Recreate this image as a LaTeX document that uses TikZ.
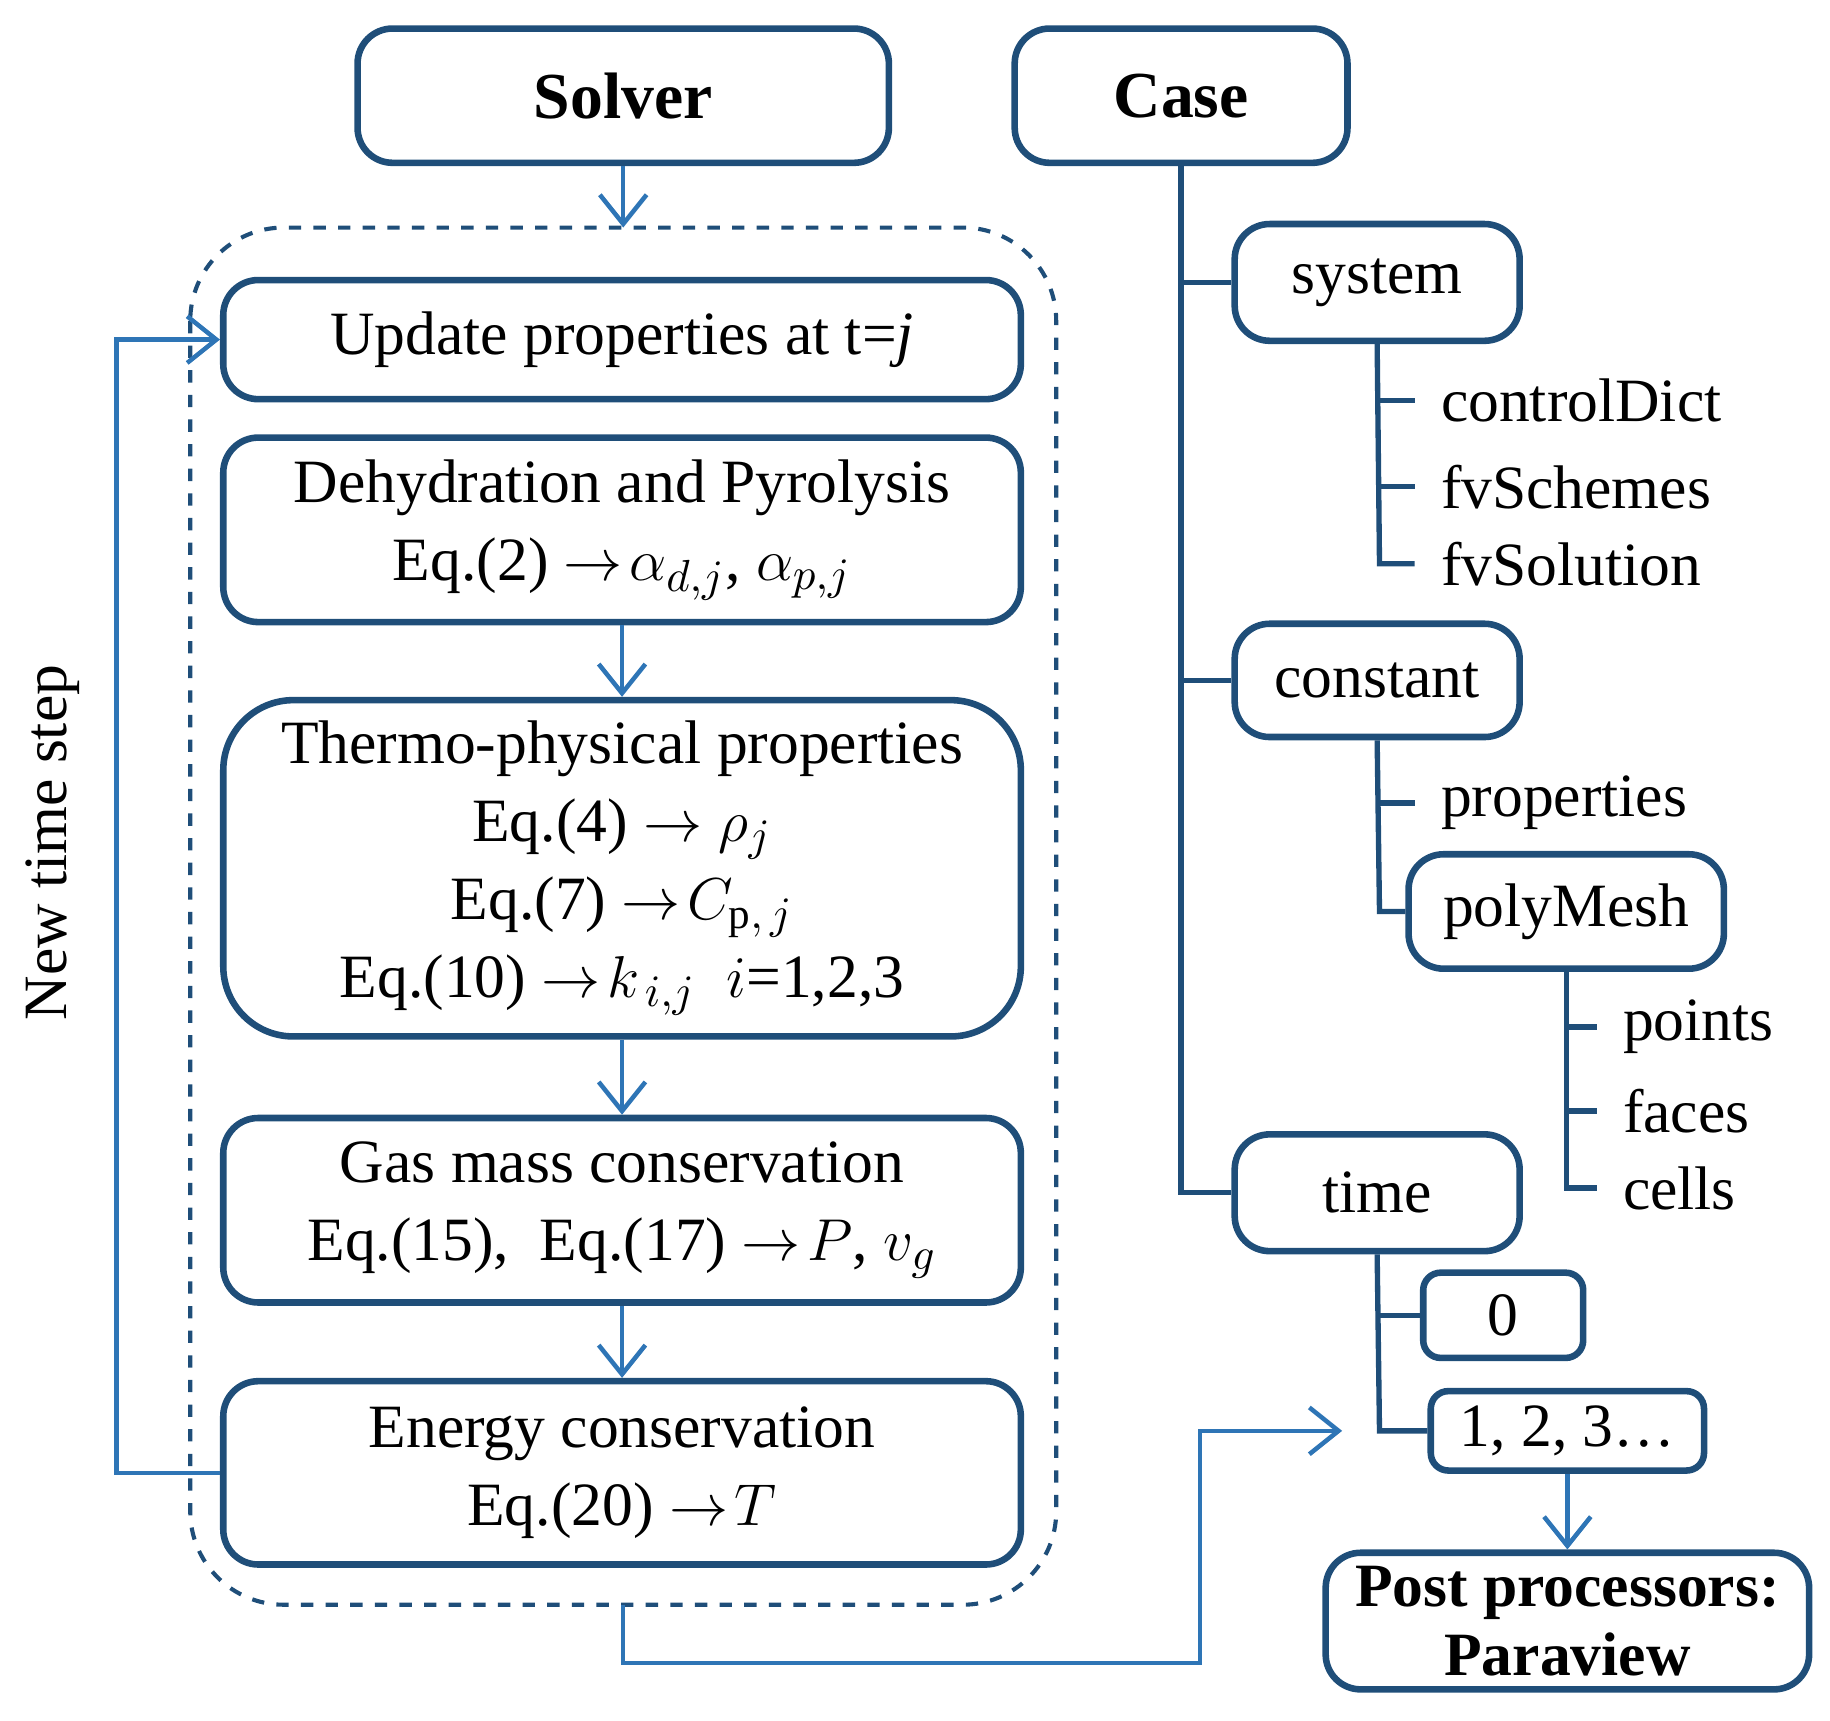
\documentclass[tikz,border=0pt]{standalone}
\usepackage{fontspec}
\setmainfont{Liberation Serif}
\usetikzlibrary{arrows.meta}
\definecolor{boxblue}{RGB}{31,78,121}
\definecolor{arrblue}{RGB}{46,117,182}
\tikzset{
  box/.style={draw=boxblue,line width=1.6pt,rounded corners=0.3cm,align=center,inner sep=0pt,font=\fontsize{15}{19}\selectfont},
  title/.style={box,font=\fontsize{16}{20}\selectfont\bfseries},
  leaf/.style={anchor=west,inner sep=0.22cm,font=\fontsize{15}{19}\selectfont},
  tree/.style={draw=boxblue,line width=1.3pt},
  flow/.style={draw=arrblue,line width=1.1pt,-{Straight Barb[length=2.5mm,width=4mm]}},
}
\begin{document}
\begin{tikzpicture}[x=0.01cm,y=-0.01cm]
\useasboundingbox (0,0) rectangle (1568,1474);
% solver side
\node[title,minimum width=4.55cm,minimum height=1.15cm] (solver) at (534,82) {Solver};
\draw[draw=boxblue,line width=1pt,dashed,rounded corners=0.8cm] (163,195) rectangle (905,1375);
\coordinate (loopT) at (534,195);
\coordinate (loopB) at (534,1375);
\node[box,minimum width=6.83cm,minimum height=1.02cm] (update) at (533,291) {Update properties at t=\textit{j}};
\node[box,minimum width=6.83cm,minimum height=1.58cm] (dehyd) at (533,454) {Dehydration and Pyrolysis\\Eq.(2) $\rightarrow\!\alpha_{d,j}$, $\alpha_{p,j}$};
\node[box,rounded corners=0.6cm,minimum width=6.83cm,minimum height=2.88cm] (thermo) at (533,744) {Thermo-physical properties\\Eq.(4) $\rightarrow\rho_j$\\Eq.(7) $\rightarrow\!C_{\mathrm{p},\,j}$\\Eq.(10) $\rightarrow\!k_{\,i,j}$ \ $i$=1,2,3};
\node[box,minimum width=6.83cm,minimum height=1.58cm] (gas) at (533,1037) {Gas mass conservation\\Eq.(15),\ \ Eq.(17) $\rightarrow\!P$, $v_g$};
\node[box,minimum width=6.83cm,minimum height=1.57cm] (energy) at (533,1262) {Energy conservation\\Eq.(20) $\rightarrow\!T$};
\node[rotate=90,font=\fontsize{15}{19}\selectfont] (newstep) at (45,722) {New time step};
\draw[flow] (solver) -- (loopT);
\draw[flow] (dehyd) -- (thermo);
\draw[flow] (thermo) -- (gas);
\draw[flow] (gas) -- (energy);
\draw[flow] (energy.west) -- (100,1262) |- (update.west);
% case side
\node[title,minimum width=2.85cm,minimum height=1.15cm] (case) at (1012,82) {Case};
\node[box,minimum width=2.44cm,minimum height=1.0cm] (system) at (1180,242) {system};
\node[box,minimum width=2.44cm,minimum height=0.97cm] (constant) at (1180,583) {constant};
\node[box,minimum width=2.7cm,minimum height=0.98cm] (polymesh) at (1342,781) {polyMesh};
\node[box,minimum width=2.44cm,minimum height=1.0cm] (time) at (1180,1022) {time};
\node[box,rounded corners=0.15cm,minimum width=1.37cm,minimum height=0.73cm] (t0) at (1288,1127) {0};
\node[box,rounded corners=0.15cm,minimum width=2.34cm,minimum height=0.68cm] (tn) at (1343,1226) {1, 2, 3\dots};
\node[title,minimum width=4.14cm,minimum height=1.17cm,font=\fontsize{15}{17}\selectfont\bfseries] (post) at (1343,1389) {Post processors:\\Paraview};
\node[leaf] (ctrl) at (1212,343) {controlDict};
\node[leaf] (schemes) at (1212,417) {fvSchemes};
\node[leaf] (solution) at (1212,483) {fvSolution};
\node[leaf] (props) at (1212,688) {properties};
\node[leaf] (points) at (1368,880) {points};
\node[leaf] (faces) at (1368,952) {faces};
\node[leaf] (cells) at (1368,1018) {cells};
\draw[tree] (case.south) -- (1012,1022) -- (time.west);
\draw[tree] (1012,242) -- (system.west);
\draw[tree] (1012,583) -- (constant.west);
\draw[tree] (system.south) -- (1182,483) -- (solution.west);
\draw[tree] (1182,343) -- (ctrl.west);
\draw[tree] (1182,417) -- (schemes.west);
\draw[tree] (constant.south) -- (1182,781) -- (polymesh.west);
\draw[tree] (1182,688) -- (props.west);
\draw[tree] (polymesh.south) -- (1342,1018) -- (cells.west);
\draw[tree] (1342,880) -- (points.west);
\draw[tree] (1342,952) -- (faces.west);
\draw[tree] (time.south) -- (1182,1226) -- (tn.west);
\draw[tree] (1182,1127) -- (t0.west);
\coordinate (outEnd) at (1150,1226);
\draw[flow] (loopB) -- (534,1425) -- (1028,1425) |- (outEnd);
\draw[flow] (tn) -- (post);
\end{tikzpicture}
\end{document}
